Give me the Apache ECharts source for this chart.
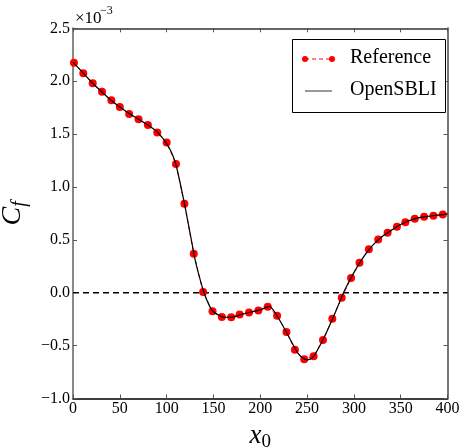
<!DOCTYPE html>
<html>
<head>
<meta charset="utf-8">
<script src="https://cdn.jsdelivr.net/npm/echarts@6/dist/echarts.min.js"></script>
<style>
  html, body { margin: 0; padding: 0; background: #fff; }
  #main { width: 459px; height: 447px; }
</style>
</head>
<body>
<div id="main"></div>
<script>
// skin friction, values in units of 1e-3
var refX = [1, 11, 21, 31, 41, 50, 60, 70, 80, 90, 100, 110, 119, 129, 139, 149, 159, 169, 178, 188,
  198, 208, 218, 228, 237, 247, 257, 267, 277, 287, 297, 306, 316, 326, 336, 346, 355, 365, 375, 385, 395];
var refY = [2.175, 2.075, 1.98, 1.90, 1.82, 1.755, 1.69, 1.64, 1.585, 1.515, 1.42, 1.217, 0.842, 0.368, 0.006,
  -0.176, -0.23, -0.233, -0.205, -0.186, -0.167, -0.132, -0.217, -0.372, -0.539, -0.63, -0.60, -0.448,
  -0.246, -0.047, 0.139, 0.284, 0.41, 0.504, 0.567, 0.624, 0.667, 0.70, 0.718, 0.728, 0.74];

var sbliX = [0, 10, 20, 30, 40, 50, 60, 70, 80, 90, 96, 100, 105, 110, 120, 130, 135, 140, 145, 150,
  160, 170, 180, 190, 200, 206, 210, 214, 220, 230, 240, 245, 250, 255, 260, 270, 280, 290, 300,
  310, 320, 330, 340, 350, 360, 370, 380, 390, 400];
var sbliY = [2.18, 2.085, 1.99, 1.905, 1.825, 1.755, 1.695, 1.64, 1.585, 1.52, 1.46, 1.41, 1.33, 1.21,
  0.80, 0.33, 0.15, 0.0, -0.11, -0.18, -0.23, -0.232, -0.205, -0.183, -0.162, -0.14, -0.128, -0.165,
  -0.248, -0.406, -0.57, -0.615, -0.635, -0.62, -0.56, -0.39, -0.19, 0.02, 0.19, 0.334, 0.448, 0.53,
  0.59, 0.645, 0.685, 0.71, 0.723, 0.734, 0.745];

var xTicks = [0, 50, 100, 150, 200, 250, 300, 350, 400];
var yTicks = [-1.0, -0.5, 0.0, 0.5, 1.0, 1.5, 2.0, 2.5];
var zeroLine = [[0, 0], [400, 0]];

function pairs(xs, ys) {
  return xs.map(function (x, i) { return [x, ys[i]]; });
}

var serif = 'Liberation Serif';
var chart = echarts.init(document.getElementById('main'));

var option = {
  animation: false,
  backgroundColor: '#fff',
  grid: { left: 73, right: 11.5, top: 28.3, bottom: 48.5, containLabel: false, outerBoundsMode: 'none' },
  xAxis: [{
    type: 'value', min: xTicks[0], max: xTicks[xTicks.length - 1], interval: 50,
    axisLine: { onZero: false, lineStyle: { color: '#000', width: 1.5 } },
    axisTick: { inside: true, length: 4, lineStyle: { color: '#555' } },
    axisLabel: { fontFamily: serif, fontSize: 16, color: '#000', margin: 2 },
    splitLine: { show: false },
    name: '{x|x}{s|0}', nameLocation: 'middle', nameGap: 22,
    nameTextStyle: {
      rich: {
        x: { fontFamily: serif, fontStyle: 'italic', fontSize: 27, color: '#000' },
        s: { fontFamily: serif, fontSize: 19, color: '#000', padding: [12, 0, 0, 0] }
      }
    }
  }, {
    type: 'value', position: 'top', min: 0, max: 400, interval: 50,
    axisLine: { onZero: false, lineStyle: { color: '#333', width: 1.5 } },
    axisTick: { inside: true, length: 4, lineStyle: { color: '#555' } },
    axisLabel: { show: false }, splitLine: { show: false }
  }],
  yAxis: [{
    type: 'value', min: yTicks[0], max: yTicks[yTicks.length - 1], interval: 0.5,
    axisLine: { show: true, onZero: false, lineStyle: { color: '#888', width: 2 } },
    axisTick: { show: true, inside: true, length: 4, lineStyle: { color: '#555' } },
    axisLabel: {
      fontFamily: serif, fontSize: 16, color: '#000', margin: 3,
      formatter: function (v) { return v.toFixed(1).replace('-', '\u2212'); }
    },
    splitLine: { show: false },
    name: '{c|C}{f|f}', nameLocation: 'middle', nameGap: 37, nameRotate: 90,
    nameTextStyle: {
      rich: {
        c: { fontFamily: serif, fontStyle: 'italic', fontSize: 28, color: '#000' },
        f: { fontFamily: serif, fontStyle: 'italic', fontSize: 20, color: '#000', padding: [14, 0, 0, 0] }
      }
    }
  }, {
    type: 'value', position: 'right', min: -1, max: 2.5, interval: 0.5,
    axisLine: { show: true, onZero: false, lineStyle: { color: '#777', width: 2 } },
    axisTick: { show: true, inside: true, length: 4, lineStyle: { color: '#555' } },
    axisLabel: { show: false }, splitLine: { show: false }
  }],
  series: [{
    name: 'zero', type: 'line', data: zeroLine, showSymbol: false, symbol: 'none', silent: true,
    lineStyle: { color: '#000', width: 1.3, type: [6, 4] }, z: 1
  }, {
    name: 'Reference', type: 'line', data: pairs(refX, refY),
    symbol: 'circle', symbolSize: 8,
    itemStyle: { color: '#ff0000' },
    lineStyle: { color: '#ff0000', width: 1, type: [4, 3] },
    z: 2
  }, {
    name: 'OpenSBLI', type: 'line', data: pairs(sbliX, sbliY),
    showSymbol: false, smooth: 0.2,
    lineStyle: { color: '#000', width: 1.2 },
    z: 3
  }],
  graphic: [
    {
      type: 'text', left: 75, top: 10,
      style: { text: '\u00d710', fontFamily: serif, fontSize: 17, fill: '#000' }
    },
    {
      type: 'text', left: 100, top: 5,
      style: { text: '\u22123', fontFamily: serif, fontSize: 12, fill: '#000' }
    },
    {
      type: 'rect', shape: { x: 292.5, y: 39.5, width: 153, height: 73 },
      style: { fill: '#fff', stroke: '#000', lineWidth: 1 }, z: 10
    },
    {
      type: 'line', shape: { x1: 305, y1: 59, x2: 332, y2: 59 },
      style: { stroke: '#ff0000', lineWidth: 1, lineDash: [4, 3] }, z: 11
    },
    { type: 'circle', shape: { cx: 305, cy: 59, r: 3 }, style: { fill: '#ff0000' }, z: 11 },
    { type: 'circle', shape: { cx: 332, cy: 59, r: 3 }, style: { fill: '#ff0000' }, z: 11 },
    {
      type: 'line', shape: { x1: 305, y1: 91, x2: 332, y2: 91 },
      style: { stroke: '#555', lineWidth: 1.2 }, z: 11
    },
    {
      type: 'text', left: 350, top: 48, z: 11,
      style: { text: 'Reference', fontFamily: serif, fontSize: 20, fill: '#000' }
    },
    {
      type: 'text', left: 350, top: 80, z: 11,
      style: { text: 'OpenSBLI', fontFamily: serif, fontSize: 20, fill: '#000' }
    }
  ]
};

chart.setOption(option);
</script>
</body>
</html>
